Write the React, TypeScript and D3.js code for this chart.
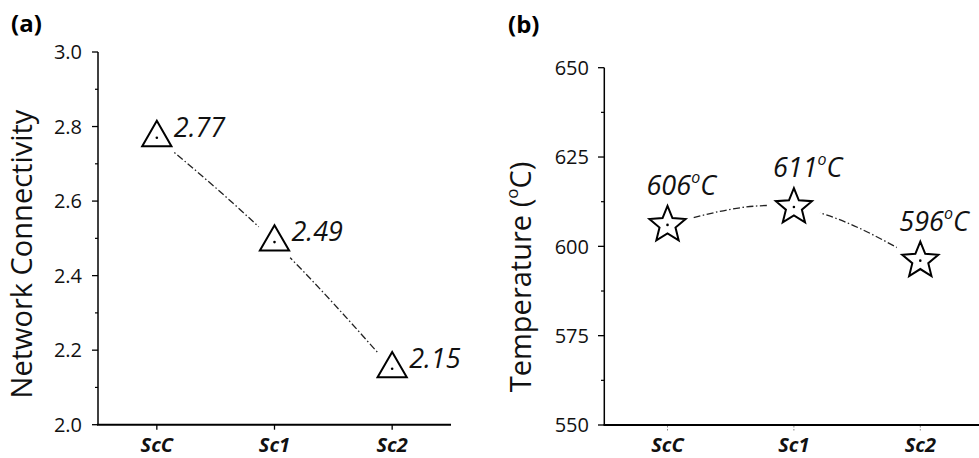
import React from "react";
import * as d3 from "d3";

const categories = ["ScC", "Sc1", "Sc2"];
const connectivity = [2.77, 2.49, 2.15];
const temperature = [606, 611, 596];
const connMajor = [2.0, 2.2, 2.4, 2.6, 2.8, 3.0];
const connMinor = [2.1, 2.3, 2.5, 2.7, 2.9];
const tempMajor = [550, 575, 600, 625, 650];
const tempMinor = [562.5, 587.5, 612.5, 637.5];

const W = 979;
const H = 458;
const FONT = "'Open Sans', sans-serif";

function starPath(R: number, r: number) {
  const pts: [number, number][] = [];
  for (let i = 0; i < 10; i++) {
    pts.push([(i * Math.PI) / 5, i % 2 === 0 ? R : r]);
  }
  return d3.lineRadial().curve(d3.curveLinearClosed)(pts) as string;
}

const triPath = d3.symbol(d3.symbolTriangle, 370)() as string;
const star = starPath(19, 8.4);

export default function App() {
  const xA = d3.scalePoint<string>().domain(categories).range([98, 451]).padding(0.5);
  const yA = d3.scaleLinear().domain([2, 3]).range([424.7, 52]);
  const xB = d3.scalePoint<string>().domain(categories).range([604.3, 983.5]).padding(0.5);
  const yB = d3.scaleLinear().domain([550, 650]).range([425, 67.7]);

  const ptsA = categories.map((c, i) => [xA(c) as number, yA(connectivity[i])] as [number, number]);
  const ptsB = categories.map((c, i) => [xB(c) as number, yB(temperature[i])] as [number, number]);
  const line = d3.line().curve(d3.curveNatural);

  const dash = "7 2.5 1.5 2.5";
  const fmt = d3.format(".1f");

  return (
    <svg
      width={W}
      height={H}
      viewBox={`0 0 ${W} ${H}`}
      style={{ position: "absolute", left: 0, top: 0, background: "#fff" }}
      fontFamily={FONT}
    >
      <defs>
        <mask id="maskA" maskUnits="userSpaceOnUse" x={0} y={0} width={W} height={H}>
          <rect x={0} y={0} width={W} height={H} fill="#fff" />
          {ptsA.map((p, i) => (
            <circle key={i} cx={p[0]} cy={p[1]} r={22} fill="#000" />
          ))}
        </mask>
        <mask id="maskB" maskUnits="userSpaceOnUse" x={0} y={0} width={W} height={H}>
          <rect x={0} y={0} width={W} height={H} fill="#fff" />
          {ptsB.map((p, i) => (
            <circle key={i} cx={p[0]} cy={p[1]} r={27} fill="#000" />
          ))}
        </mask>
      </defs>

      {/* ---------- Panel A ---------- */}
      <text x={11} y={32} fontSize={24} fontWeight="bold">(a)</text>
      <text
        transform={`translate(32, 254) rotate(-90)`}
        textAnchor="middle"
        fontSize={29}
        fill="#111"
      >
        Network Connectivity
      </text>
      <line x1={98} x2={98} y1={yA(3)} y2={yA(2)} stroke="#000" strokeWidth={1.5} />
      {connMajor.map((t) => (
        <g key={t}>
          <line x1={92} x2={98} y1={yA(t)} y2={yA(t)} stroke="#000" strokeWidth={1.3} />
          <text x={82} y={yA(t)} dy="0.36em" textAnchor="end" fontSize={20} fill="#111">
            {fmt(t)}
          </text>
        </g>
      ))}
      {connMinor.map((t) => (
        <line key={t} x1={95} x2={98} y1={yA(t)} y2={yA(t)} stroke="#000" strokeWidth={1.2} />
      ))}
      <line x1={97} x2={451} y1={yA(2)} y2={yA(2)} stroke="#000" strokeWidth={2} />
      {categories.map((c) => (
        <g key={c}>
          <line x1={xA(c)} x2={xA(c)} y1={yA(2)} y2={yA(2) + 5} stroke="#000" strokeWidth={1.3} />
          <text x={xA(c)} y={452} textAnchor="middle" fontSize={20} fontWeight="bold" fontStyle="italic" fill="#111">
            {c}
          </text>
        </g>
      ))}
      <path d={line(ptsA) as string} fill="none" stroke="#222" strokeWidth={1.3} strokeDasharray={dash} mask="url(#maskA)" />
      {ptsA.map((p, i) => (
        <g key={i}>
          <path d={triPath} transform={`translate(${p[0]},${p[1]})`} fill="#fff" stroke="#000" strokeWidth={2} strokeLinejoin="miter" />
          <circle cx={p[0]} cy={p[1]} r={1.3} fill="#000" />
          <text x={p[0] + 17} y={p[1] - 1} fontSize={27} fontStyle="italic" fill="#111">
            {d3.format(".2f")(connectivity[i])}
          </text>
        </g>
      ))}

      {/* ---------- Panel B ---------- */}
      <text x={508} y={33} fontSize={24} fontWeight="bold">(b)</text>
      <text
        transform={`translate(531, 277) rotate(-90)`}
        textAnchor="middle"
        fontSize={29}
        fill="#111"
      >
        Temperature (<tspan fontSize={17} dy={-13}>o</tspan>
        <tspan dy={13}>C)</tspan>
      </text>
      <line x1={604.3} x2={604.3} y1={yB(650)} y2={yB(550)} stroke="#000" strokeWidth={1.5} />
      {tempMajor.map((t) => (
        <g key={t}>
          <line x1={598} x2={604.3} y1={yB(t)} y2={yB(t)} stroke="#000" strokeWidth={1.3} />
          <text x={589} y={yB(t)} dy="0.36em" textAnchor="end" fontSize={20} fill="#111">
            {t}
          </text>
        </g>
      ))}
      {tempMinor.map((t) => (
        <line key={t} x1={601} x2={604.3} y1={yB(t)} y2={yB(t)} stroke="#000" strokeWidth={1.2} />
      ))}
      <line x1={603.5} x2={983.5} y1={yB(550)} y2={yB(550)} stroke="#000" strokeWidth={2} />
      {categories.map((c) => (
        <g key={c}>
          <line x1={xB(c)} x2={xB(c)} y1={yB(550) + 1} y2={yB(550) + 6} stroke="#888" strokeWidth={1} strokeDasharray="1.5 1.5" />
          <text x={xB(c)} y={452} textAnchor="middle" fontSize={20} fontWeight="bold" fontStyle="italic" fill="#111">
            {c}
          </text>
        </g>
      ))}
      <path d={line(ptsB) as string} fill="none" stroke="#222" strokeWidth={1.3} strokeDasharray={dash} mask="url(#maskB)" />
      {ptsB.map((p, i) => (
        <g key={i}>
          <path d={star} transform={`translate(${p[0]},${p[1]})`} fill="#fff" stroke="#000" strokeWidth={2} strokeLinejoin="miter" />
          <circle cx={p[0]} cy={p[1]} r={1.3} fill="#000" />
          <text x={p[0] - 21} y={p[1] - 30} fontSize={27} fontStyle="italic" fill="#111">
            {temperature[i]}
            <tspan fontSize={16} dy={-12}>o</tspan>
            <tspan dy={12}>C</tspan>
          </text>
        </g>
      ))}
    </svg>
  );
}
